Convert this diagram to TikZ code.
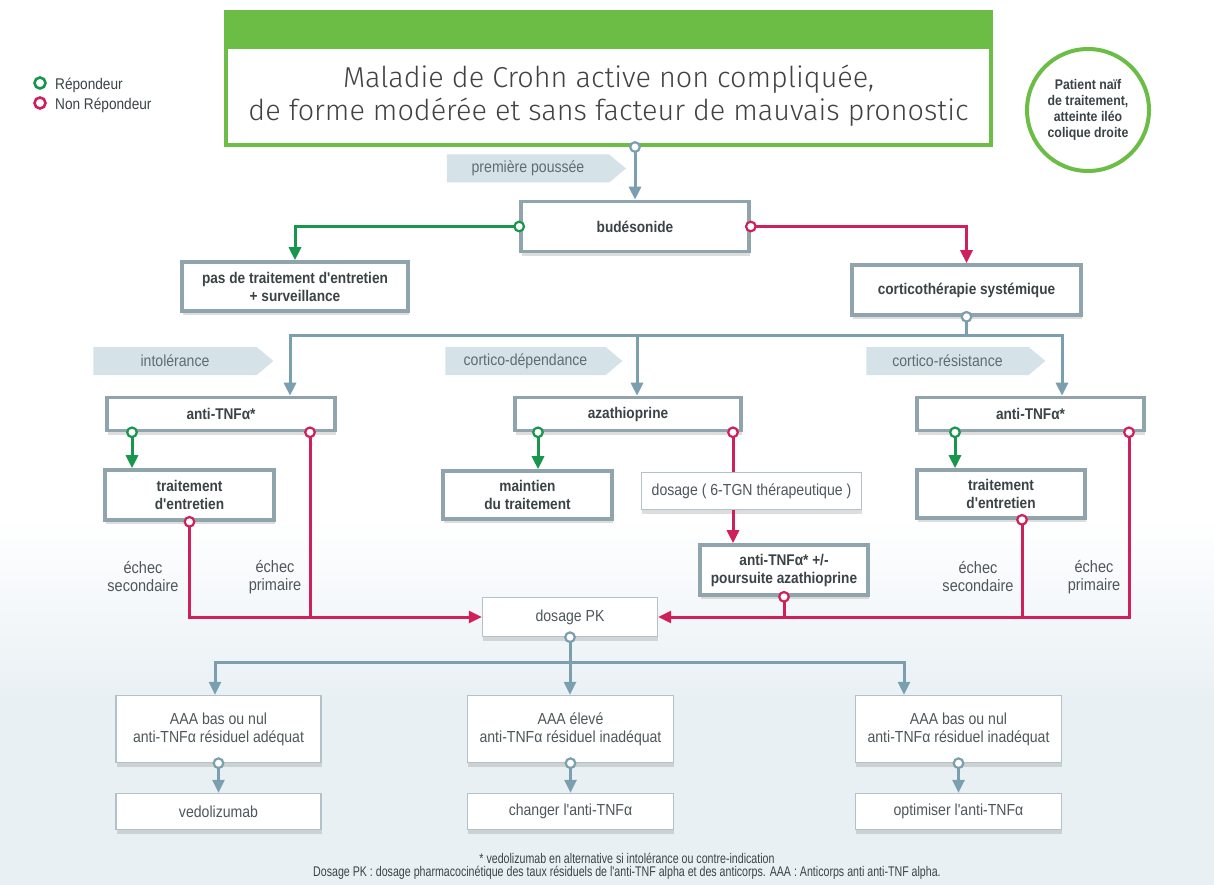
\documentclass[tikz,border=0pt]{standalone}
\usepackage{fontspec}
\setmainfont{Liberation Sans}
\newfontfamily\cond{Liberation Sans}[FakeStretch=0.88]
\newfontfamily\narrowf{Liberation Sans}[FakeStretch=0.76]
\newfontfamily\titlef{Fira Sans Light}
\usetikzlibrary{arrows.meta,shapes.symbols,shadows,calc}
\definecolor{boxgray}{HTML}{8FA4AD}
\definecolor{thingray}{HTML}{B3C1C8}
\definecolor{arrblue}{HTML}{7C9FB0}
\definecolor{rgreen}{HTML}{17964C}
\definecolor{rmag}{HTML}{D0205A}
\definecolor{tgreen}{HTML}{6CBD45}
\definecolor{tagfill}{HTML}{D5E2E8}
\definecolor{tagtext}{HTML}{5D6D75}
\definecolor{darktext}{HTML}{3B4346}
\definecolor{midtext}{HTML}{4F575A}
\definecolor{bgblue}{HTML}{E9F0F4}
\tikzset{
  x=1pt,y=-1pt,
  shd/.style={drop shadow={shadow xshift=0.5pt,shadow yshift=-4pt,opacity=0.22,fill=black!60}},
  boldbox/.style={draw=boxgray,line width=3.6pt,fill=white,shd,inner sep=1pt,align=center,
    font=\cond\bfseries\fontsize{15.5}{18}\selectfont,text=darktext},
  thinbox/.style={draw=thingray,line width=1.4pt,fill=white,shd,inner sep=1pt,align=center,
    font=\cond\fontsize{16}{18}\selectfont,text=midtext},
  tagbox/.style={signal,signal to=east,signal pointer angle=80,fill=tagfill,draw=none,
    minimum height=28pt,inner xsep=4pt,inner ysep=1pt,font=\cond\fontsize{16}{18}\selectfont,text=tagtext},
  conn/.style={line width=3pt},
  bconn/.style={conn,draw=arrblue},
  gconn/.style={conn,draw=rgreen},
  mconn/.style={conn,draw=rmag},
  tip/.style={-{Triangle[length=13pt,width=12pt]}},
  lbl/.style={align=center,font=\cond\fontsize{16.5}{18}\selectfont,text=midtext},
}
\newcommand{\dotat}[2]{\draw[line width=2.2pt,draw=#1,fill=white] (#2) circle (4.8);}
\begin{document}
\begin{tikzpicture}
\useasboundingbox (0,0) rectangle (1214,885);
\fill[white] (0,0) rectangle (1214,885);
\shade[top color=white,bottom color=bgblue] (0,520) rectangle (1214,700);
\fill[bgblue] (0,700) rectangle (1214,885);

% title
\node[draw=tgreen,line width=4pt,fill=white,minimum width=765pt,minimum height=98pt,inner sep=0pt,
  align=center,font=\titlef\fontsize{28.8}{33}\selectfont,text=black!74] (title) at (608.5,96)
  {Maladie de Crohn active non compliquée,\\de forme modérée et sans facteur de mauvais pronostic};
\fill[tgreen] (224,10) rectangle (993,49);

% patient circle
\node[circle,draw=tgreen,line width=4pt,minimum size=122pt,inner sep=0pt,align=center,
  font=\cond\bfseries\fontsize{14}{16}\selectfont,text=darktext] (patient) at (1088,110)
  {Patient naïf\\de traitement,\\atteinte iléo\\colique droite};

% legend
\draw[line width=2.6pt,draw=rgreen] (40,83) circle (5.5);
\draw[line width=2.6pt,draw=rmag] (40,103) circle (5.5);
\node[anchor=west,font=\cond\fontsize{15.5}{17}\selectfont,text=darktext,inner sep=0pt] (leg1) at (55,85) {Répondeur};
\node[anchor=west,font=\cond\fontsize{15.5}{17}\selectfont,text=darktext,inner sep=0pt] (leg2) at (55,105) {Non Répondeur};

% tags
\node[tagbox,minimum width=179pt] (tag1) at (528,168.5) {première poussée\hspace{14pt}};
\node[tagbox,minimum width=180pt] (tag2) at (175,361) {intolérance\hspace{40pt}};
\node[tagbox,minimum width=177pt] (tag3) at (525.5,361) {cortico-dépendance\hspace{10pt}};
\node[tagbox,minimum width=179pt] (tag4) at (947.5,361) {cortico-résistance\hspace{14pt}};

% main boxes
\node[boldbox,minimum width=228pt,minimum height=50pt] (bud) at (635,226.5) {budésonide};
\node[boldbox,minimum width=226pt,minimum height=49pt] (pas) at (295,286.5) {pas de traitement d'entretien\\+ surveillance};
\node[boldbox,minimum width=229pt,minimum height=50pt] (cort) at (966.5,290) {corticothérapie systémique};

\node[boldbox,minimum width=228pt,minimum height=33pt] (antiL) at (221,414) {anti-TNFα*};
\node[boldbox,minimum width=226pt,minimum height=33pt] (aza) at (628,414) {azathioprine};
\node[boldbox,minimum width=227pt,minimum height=33pt] (antiR) at (1030.5,414) {anti-TNFα*};

\node[boldbox,minimum width=169pt,minimum height=50pt] (traitL) at (189.5,495) {traitement\\d'entretien};
\node[boldbox,minimum width=169pt,minimum height=48pt] (maint) at (527.5,495) {maintien\\du traitement};
\node[thinbox,minimum width=220pt,minimum height=37pt] (dos6) at (751.5,491) {dosage ( 6-TGN thérapeutique )};
\node[boldbox,minimum width=168pt,minimum height=50pt] (antiplus) at (784,570) {anti-TNFα* +/-\\poursuite azathioprine};
\node[boldbox,minimum width=168pt,minimum height=48pt] (traitR) at (1001,494) {traitement\\d'entretien};

\node[thinbox,minimum width=175pt,minimum height=39pt] (dosPK) at (570,617) {dosage PK};

\node[thinbox,minimum width=205pt,minimum height=67pt] (r1a) at (218.5,729) {AAA bas ou nul\\anti-TNFα résiduel adéquat};
\node[thinbox,minimum width=206pt,minimum height=67pt] (r1b) at (570.5,729) {AAA élevé\\anti-TNFα résiduel inadéquat};
\node[thinbox,minimum width=206pt,minimum height=67pt] (r1c) at (958.5,729) {AAA bas ou nul\\anti-TNFα résiduel inadéquat};
\node[thinbox,minimum width=205pt,minimum height=36pt] (r2a) at (218.5,811.5) {vedolizumab};
\node[thinbox,minimum width=206pt,minimum height=36pt] (r2b) at (570.5,811.5) {changer l'anti-TNFα};
\node[thinbox,minimum width=206pt,minimum height=36pt] (r2c) at (958.5,811.5) {optimiser l'anti-TNFα};

% labels
\node[lbl] (e1) at (143,577) {échec\\secondaire};
\node[lbl] (e2) at (275,577) {échec\\primaire};
\node[lbl] (e3) at (978,577) {échec\\secondaire};
\node[lbl] (e4) at (1094,577) {échec\\primaire};

% footnotes
\node[font=\narrowf\fontsize{14}{16}\selectfont,text=darktext,inner sep=0pt] (fn1) at (627,858) {* vedolizumab en alternative si intolérance ou contre-indication};
\node[font=\narrowf\fontsize{14}{16}\selectfont,text=darktext,inner sep=0pt] (fn2) at (627,873) {Dosage PK : dosage pharmacocinétique des taux résiduels de l'anti-TNF alpha et des anticorps. AAA : Anticorps anti anti-TNF alpha.};

% connectors
\draw[bconn,tip] (bud.north |- title.south) -- (bud.north);
\dotat{arrblue}{bud.north |- title.south}

\draw[gconn,tip] (bud.west) -| (pas.north);
\dotat{rgreen}{bud.west}
\draw[mconn,tip] (bud.east) -| (cort.north);
\dotat{rmag}{bud.east}

\coordinate (hub) at (966.5,335);
\draw[bconn] (cort.south) -- (hub);
\draw[bconn,tip] (hub) -| ([xshift=69pt]antiL.north);
\draw[bconn,tip] (hub) -| ([xshift=9pt]aza.north);
\draw[bconn,tip] (hub) -| ([xshift=31.5pt]antiR.north);
\dotat{arrblue}{cort.south}

% left column
\draw[gconn,tip] ([xshift=-89pt]antiL.south) coordinate (gL) -- (gL |- traitL.north);
\dotat{rgreen}{gL}
\draw[mconn] ([xshift=89pt]antiL.south) coordinate (mL) -- (mL |- dosPK.west);
\draw[mconn,tip] (traitL.south) |- (dosPK.west);
\dotat{rmag}{mL}
\dotat{rmag}{traitL.south}

% middle column
\draw[gconn,tip] ([xshift=-90pt]aza.south) coordinate (gM) -- (gM |- maint.north);
\dotat{rgreen}{gM}
\draw[mconn] ([xshift=105pt]aza.south) coordinate (mM) -- (mM |- dos6.north);
\draw[mconn,tip] (mM |- dos6.south) -- (mM |- antiplus.north);
\dotat{rmag}{mM}
\draw[mconn] (antiplus.south) -- (antiplus.south |- dosPK.east);
\dotat{rmag}{antiplus.south}

% right column
\draw[gconn,tip] ([xshift=-75.5pt]antiR.south) coordinate (gR) -- (gR |- traitR.north);
\dotat{rgreen}{gR}
\draw[mconn,tip] ([xshift=98.5pt]antiR.south) coordinate (mR) |- (dosPK.east);
\draw[mconn] ([xshift=21pt]traitR.south) coordinate (tR) -- (tR |- dosPK.east);
\dotat{rmag}{mR}
\dotat{rmag}{tR}

% dosage PK branches
\coordinate (hub2) at (570,662);
\draw[bconn] (dosPK.south) -- (hub2);
\draw[bconn,tip] (hub2) -| ([xshift=-3.5pt]r1a.north);
\draw[bconn,tip] (hub2) -- (hub2 |- r1b.north);
\draw[bconn,tip] (hub2) -| ([xshift=-54.5pt]r1c.north);
\dotat{arrblue}{dosPK.south}

% row arrows
\draw[bconn,tip] (r1a.south) -- (r2a.north);
\draw[bconn,tip] (r1b.south) -- (r2b.north);
\draw[bconn,tip] (r1c.south) -- (r2c.north);
\dotat{arrblue}{r1a.south}
\dotat{arrblue}{r1b.south}
\dotat{arrblue}{r1c.south}
\end{tikzpicture}
\end{document}
